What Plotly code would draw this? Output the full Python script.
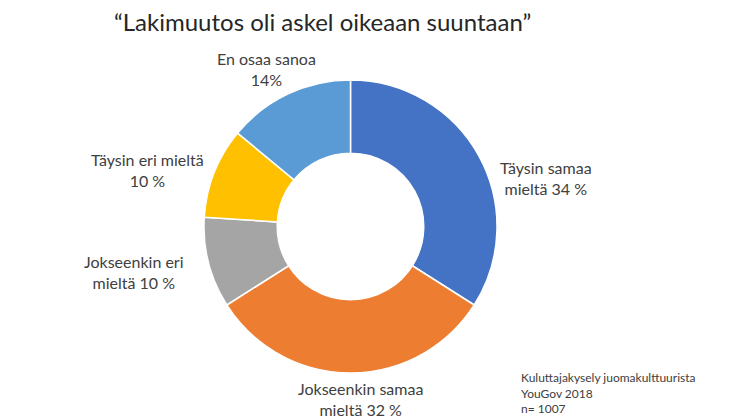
import plotly.graph_objects as go

labels = ["Täysin samaa mieltä", "Jokseenkin samaa mieltä", "Jokseenkin eri mieltä",
          "Täysin eri mieltä", "En osaa sanoa"]
values = [34, 32, 10, 10, 14]
label_texts = ["Täysin samaa<br>mieltä 34 %", "Jokseenkin samaa<br>mieltä 32 %",
               "Jokseenkin eri<br>mieltä 10 %", "Täysin eri mieltä<br>10 %",
               "En osaa sanoa<br>14%"]
colors = ["#4472C4", "#ED7D31", "#A5A5A5", "#FFC000", "#5B9BD5"]
title_text = "“Lakimuutos oli askel oikeaan suuntaan”"
source_text = "Kuluttajakysely juomakulttuurista<br>YouGov 2018<br>n= 1007"

OFF = 8  # page body margin
W, H = 746 - OFF, 419 - OFF
label_pos = [(546, 178), (360, 399), (134, 272), (147, 170), (266, 69)]
FONT = "Lato, Open Sans, sans-serif"

def px_x(x):
    return (x - OFF) / W

def px_y(y):
    return 1 - (y - OFF) / H

fig = go.Figure(go.Pie(
    labels=labels, values=values, sort=False, direction="clockwise", rotation=0,
    hole=0.5, marker=dict(colors=colors, line=dict(color="white", width=1.5)),
    textinfo="none", hoverinfo="label+percent", showlegend=False,
    domain=dict(x=[px_x(204), px_x(497)], y=[px_y(373), px_y(80)]),
))

annotations = []
for t, (px, py) in zip(label_texts, label_pos):
    annotations.append(dict(x=px_x(px), y=px_y(py), xref="paper", yref="paper", text=t,
                            showarrow=False, xanchor="center", yanchor="middle",
                            font=dict(family=FONT, size=16, color="#404040")))
annotations.append(dict(x=px_x(322), y=px_y(22), xref="paper", yref="paper", text=title_text,
                        showarrow=False, xanchor="center", yanchor="middle",
                        font=dict(family=FONT, size=24, color="#262626")))
annotations.append(dict(x=px_x(519), y=px_y(393), xref="paper", yref="paper", text=source_text,
                        showarrow=False, xanchor="left", yanchor="middle", align="left",
                        font=dict(family=FONT, size=12, color="#404040")))

fig.update_layout(width=W, height=H, margin=dict(l=0, r=0, t=0, b=0),
                  paper_bgcolor="white", plot_bgcolor="white", annotations=annotations)
fig.write_html("out.html")
